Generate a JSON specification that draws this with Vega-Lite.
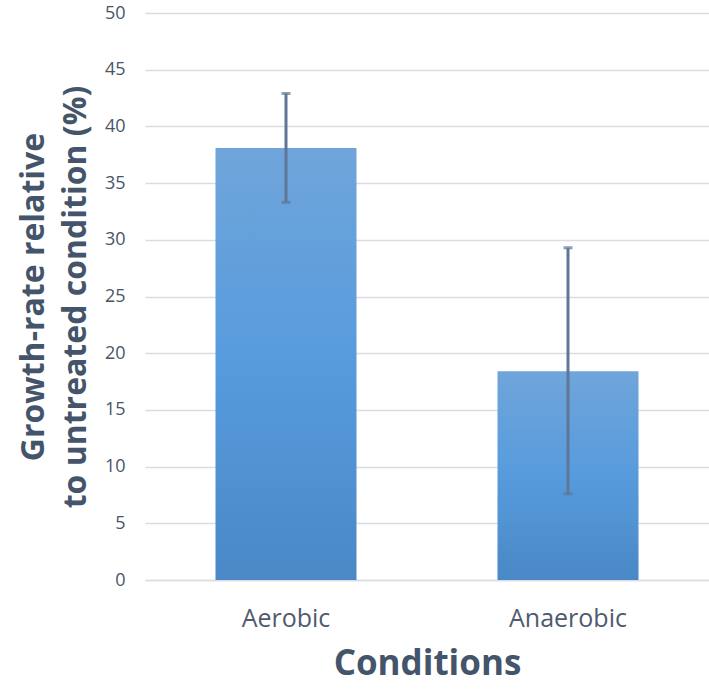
{
  "$schema": "https://vega.github.io/schema/vega-lite/v6.json",
  "autosize": "none",
  "padding": {"left": 145, "top": 13, "right": 0, "bottom": 112},
  "width": 564,
  "height": 567,
  "background": "white",
  "config": {
    "view": {"stroke": null},
    "font": "Open Sans"
  },
  "data": {
    "values": [
      {"condition": "Aerobic", "value": 38.1, "low": 33.3, "high": 42.9},
      {"condition": "Anaerobic", "value": 18.4, "low": 7.6, "high": 29.3}
    ]
  },
  "encoding": {
    "x": {
      "field": "condition",
      "type": "nominal",
      "sort": null,
      "scale": {"paddingInner": 0.5, "paddingOuter": 0.25},
      "axis": {
        "title": "Conditions",
        "labelAngle": 0,
        "labelFontSize": 25,
        "labelColor": "#4F5B6D",
        "labelPadding": 26,
        "ticks": false,
        "domainColor": "#D9DDE3",
        "domainWidth": 1.5,
        "titleFontSize": 35,
        "titleFontWeight": "bold",
        "titleColor": "#44546A",
        "titlePadding": 15
      }
    }
  },
  "layer": [
    {
      "mark": {
        "type": "bar",
        "color": {
          "gradient": "linear",
          "x1": 0, "y1": 0, "x2": 0, "y2": 1,
          "stops": [
            {"offset": 0, "color": "#6FA5DA"},
            {"offset": 0.5, "color": "#579BDD"},
            {"offset": 1, "color": "#4A88C6"}
          ]
        }
      },
      "encoding": {
        "y": {
          "field": "value",
          "type": "quantitative",
          "scale": {"domain": [0, 50]},
          "axis": {
            "title": ["Growth-rate relative", "to untreated condition (%)"],
            "values": [0, 5, 10, 15, 20, 25, 30, 35, 40, 45, 50],
            "domain": false,
            "ticks": false,
            "gridColor": "#D9DDE3",
            "gridWidth": 1.5,
            "labelFontSize": 18,
            "labelColor": "#4A5568",
            "labelPadding": 20,
            "titleFontSize": 32,
            "titleFontWeight": "bold",
            "titleColor": "#44546A",
            "titlePadding": 12,
            "titleLineHeight": 42
          }
        }
      }
    },
    {
      "mark": {"type": "rule", "color": "#5F7696", "strokeWidth": 3},
      "encoding": {
        "y": {"field": "low", "type": "quantitative"},
        "y2": {"field": "high"}
      }
    },
    {
      "mark": {"type": "tick", "color": "#5F7696", "thickness": 3, "size": 9},
      "encoding": {"y": {"field": "low", "type": "quantitative"}}
    },
    {
      "mark": {"type": "tick", "color": "#5F7696", "thickness": 3, "size": 9},
      "encoding": {"y": {"field": "high", "type": "quantitative"}}
    }
  ]
}
